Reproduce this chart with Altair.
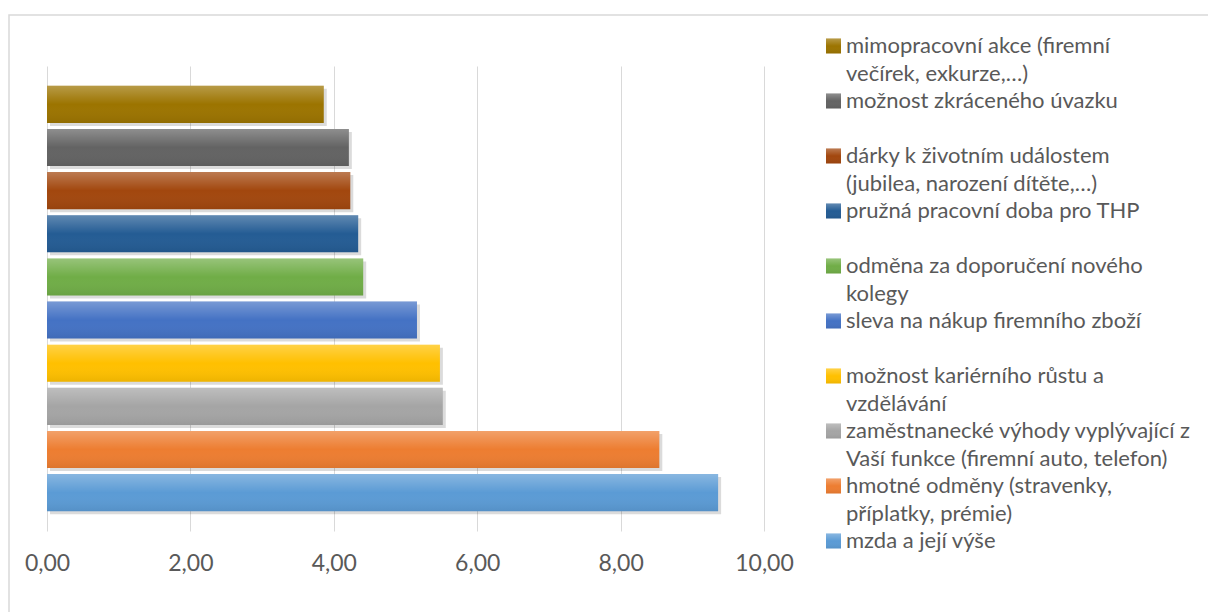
import altair as alt
import pandas as pd

# ---- data ----
categories = [
    "mimopracovní akce (firemní večírek, exkurze,…)",
    "možnost zkráceného úvazku",
    "dárky k životním událostem (jubilea, narození dítěte,…)",
    "pružná pracovní doba pro THP",
    "odměna za doporučení nového kolegy",
    "sleva na nákup firemního zboží",
    "možnost kariérního růstu a vzdělávání",
    "zaměstnanecké výhody vyplývající z Vaší funkce (firemní auto, telefon)",
    "hmotné odměny (stravenky, příplatky, prémie)",
    "mzda a její výše",
]
values = [3.86, 4.21, 4.23, 4.34, 4.41, 5.16, 5.48, 5.52, 8.54, 9.36]
colors = ["#9C7400", "#636363", "#A2470E", "#245C94", "#70AD47",
          "#4472C4", "#FFC000", "#A5A5A5", "#ED7D31", "#5B9BD5"]
legend_lines = [
    ["mimopracovní akce (firemní", "večírek, exkurze,…)"],
    ["možnost zkráceného úvazku"],
    ["dárky k životním událostem", "(jubilea, narození dítěte,…)"],
    ["pružná pracovní doba pro THP"],
    ["odměna za doporučení nového", "kolegy"],
    ["sleva na nákup firemního zboží"],
    ["možnost kariérního růstu a", "vzdělávání"],
    ["zaměstnanecké výhody vyplývající z", "Vaší funkce (firemní auto, telefon)"],
    ["hmotné odměny (stravenky,", "příplatky, prémie)"],
    ["mzda a její výše"],
]
x_ticks = [0, 2, 4, 6, 8, 10]

bars_df = pd.DataFrame({"kategorie": categories, "hodnota": values})
rows = []
for i, (cat, lines) in enumerate(zip(categories, legend_lines)):
    for j, t in enumerate(lines):
        rows.append({"kategorie": cat, "slot": 2 * i + j, "text": t, "first": j == 0})
leg_df = pd.DataFrame(rows)

FONT = "Lato"
TXT = "#595959"
W, H = 717, 465
PAD = {"left": 47, "top": 66, "right": 1208 - 47 - W, "bottom": 612 - 66 - H}

color = alt.Color("kategorie:N", scale=alt.Scale(domain=categories, range=colors), legend=None)
ybar = alt.Y("kategorie:N", sort=categories, axis=None,
             scale=alt.Scale(paddingInner=0.14, paddingOuter=0.46))
xbar = alt.X("hodnota:Q", title=None,
             scale=alt.Scale(domain=[0, 10], nice=False),
             axis=alt.Axis(values=x_ticks, grid=True, gridColor="#D9D9D9", gridWidth=1,
                           domain=False, ticks=False, labelFlush=False,
                           labelExpr="replace(format(datum.value, '.2f'), '.', ',')",
                           labelFont=FONT, labelFontSize=23, labelColor=TXT,
                           labelPadding=21))

base = alt.Chart(bars_df)
shadow = base.mark_bar(color="#000000", opacity=0.14, xOffset=3, yOffset=3).encode(x=xbar, y=ybar)
bars = base.mark_bar().encode(x=xbar, y=ybar, color=color)
shade = alt.Gradient(
    gradient="linear", x1=0, x2=0, y1=0, y2=1,
    stops=[alt.GradientStop(color="rgba(255,255,255,0.28)", offset=0),
           alt.GradientStop(color="rgba(255,255,255,0)", offset=0.5),
           alt.GradientStop(color="rgba(0,0,0,0.07)", offset=1)])
overlay = base.mark_bar(fill=shade).encode(x=xbar, y=ybar)

yleg = alt.Y("slot:Q", axis=None, scale=alt.Scale(domain=[0, 18], range=[-20, 475], nice=False, zero=False))
leg = alt.Chart(leg_df)
squares = leg.transform_filter("datum.first").mark_square(size=225, opacity=1).encode(
    x=alt.value(786.5), y=yleg, color=color)
sq_shade = leg.transform_filter("datum.first").mark_square(size=225, fill=shade, opacity=1).encode(
    x=alt.value(786.5), y=yleg)
texts = leg.mark_text(align="left", baseline="middle", font=FONT, fontSize=22, color=TXT).encode(
    x=alt.value(799), y=yleg, text="text:N")

border = alt.Chart(pd.DataFrame({"b": [0]})).mark_rect(
    filled=False, stroke="#D9D9D9", strokeWidth=1.5).encode(
    x=alt.value(9 - 47), x2=alt.value(1208 + 10 - 47),
    y=alt.value(15 - 66), y2=alt.value(612 + 10 - 66))

chart = alt.layer(border, shadow, bars, overlay, squares, sq_shade, texts).resolve_scale(
    y="independent"
).properties(
    width=W, height=H,
    autosize=alt.AutoSizeParams(type="none"),
    padding=PAD,
    background="white",
).configure_view(strokeWidth=0)

chart.save("out.html", embed_options={"renderer": "svg", "actions": False})
